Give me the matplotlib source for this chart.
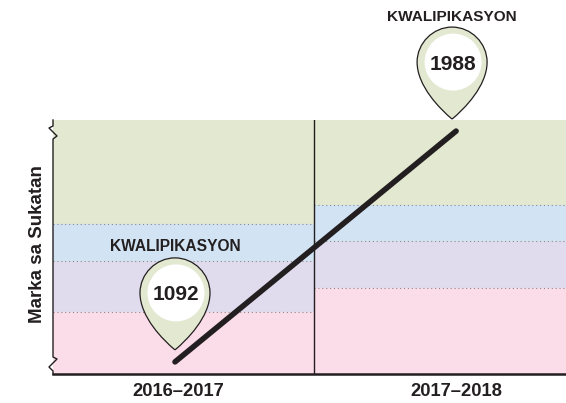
import matplotlib
matplotlib.use('Agg')
import matplotlib.pyplot as plt
from matplotlib.path import Path
from matplotlib.patches import PathPatch, Circle
from matplotlib.transforms import Affine2D, ScaledTranslation

plt.rcParams['font.family'] = ['Liberation Sans', 'DejaVu Sans']

# Data
years = ['2016–2017', '2017–2018']
scores = [1092, 1988]
pin_label = 'KWALIPIKASYON'
y_label = 'Marka sa Sukatan'

# band edges per year, bottom to top
y_min, y_max = 1045, 2031
edges_left = [1286, 1484, 1627]
edges_right = [1379, 1561, 1701]
band_colors = ['#fbdde9', '#e0dcee', '#d2e4f4', '#e3e8d0']

W, H = 566, 403
fig = plt.figure(figsize=(W / 100, H / 100), dpi=100)
ax = fig.add_axes([53 / W, 1 - 374 / H, (W - 53) / W, (374 - 120) / H])
ax.set_xlim(-0.434, 1.391)
ax.set_ylim(y_min, y_max)
split = 0.495

# bands
for edges, x0, x1 in [(edges_left, -0.434, split), (edges_right, split, 1.391)]:
    bounds = [y_min] + edges + [y_max]
    for i, c in enumerate(band_colors):
        ax.fill_between([x0, x1], bounds[i], bounds[i + 1], color=c, lw=0, zorder=1)
    ax.hlines(edges, x0, x1, color='#8a8a8a', lw=0.8, linestyles=(0, (1, 2.5)), zorder=2)

ax.axvline(split, color='#231f20', lw=1, zorder=3)
ax.plot([0, 1], scores, color='#231f20', lw=4, solid_capstyle='round', zorder=4)


def draw_pin(x, score, dx, label_dy, label_size):
    base = ScaledTranslation(x, score, ax.transData)
    tip = Affine2D().translate(dx, 12) + base
    verts = [(0, 0), (-12, 10), (-35, 33), (-35, 57),
             (-35, 76), (-19, 92), (0, 92),
             (19, 92), (35, 76), (35, 57),
             (35, 33), (12, 10), (0, 0)]
    codes = [Path.MOVETO] + [Path.CURVE4] * 12
    ax.add_patch(PathPatch(Path(verts, codes), fc='#e3e8d0', ec='#231f20', lw=0.9,
                           transform=tip, clip_on=False, zorder=5))
    ax.add_patch(Circle((1, 57), 28.5, fc='white', ec='none',
                        transform=tip, clip_on=False, zorder=6))
    ax.text(1, 57, str(score), transform=tip, ha='center', va='center_baseline',
            fontsize=15, fontweight='bold', color='#231f20', zorder=7)
    ax.text(0, label_dy, pin_label, transform=tip, ha='center', va='center',
            fontsize=label_size, fontweight='bold', color='#231f20',
            clip_on=False, zorder=7)


draw_pin(0, scores[0], 0, 103, 11.2)
draw_pin(1, scores[1], -4, 102, 11.1)

# axes
for s in ax.spines.values():
    s.set_visible(False)
ax.set_xticks([])
ax.set_yticks([])
ax.patch.set_alpha(0)

lines = Affine2D() + ScaledTranslation(0, 0, ax.transAxes)
ax.plot([0, W - 53], [0, 0], color='#231f20', lw=1.8, transform=lines, clip_on=False, zorder=8)
axis_x = [0, 0, -4, 4, 0, 0, 4, -4, 0, 0]
axis_y = [0, 3, 7, 15, 17, 235, 238, 246, 248, 254]
ax.plot(axis_x, axis_y, color='#231f20', lw=1, transform=lines, clip_on=False, zorder=8)

# labels
for i, yr in enumerate(years):
    t = ScaledTranslation(i, y_min, ax.transData)
    ax.text(3 - i * 3, -18, yr, transform=Affine2D() + t, ha='center', va='center',
            fontsize=13.2, fontweight='bold', color='#231f20', clip_on=False)
ax.text(-15, 130, y_label, transform=lines, rotation=90, ha='center', va='center',
        fontsize=13.5, fontweight='bold', color='#231f20', clip_on=False)

fig.savefig('out.png', dpi=100)
